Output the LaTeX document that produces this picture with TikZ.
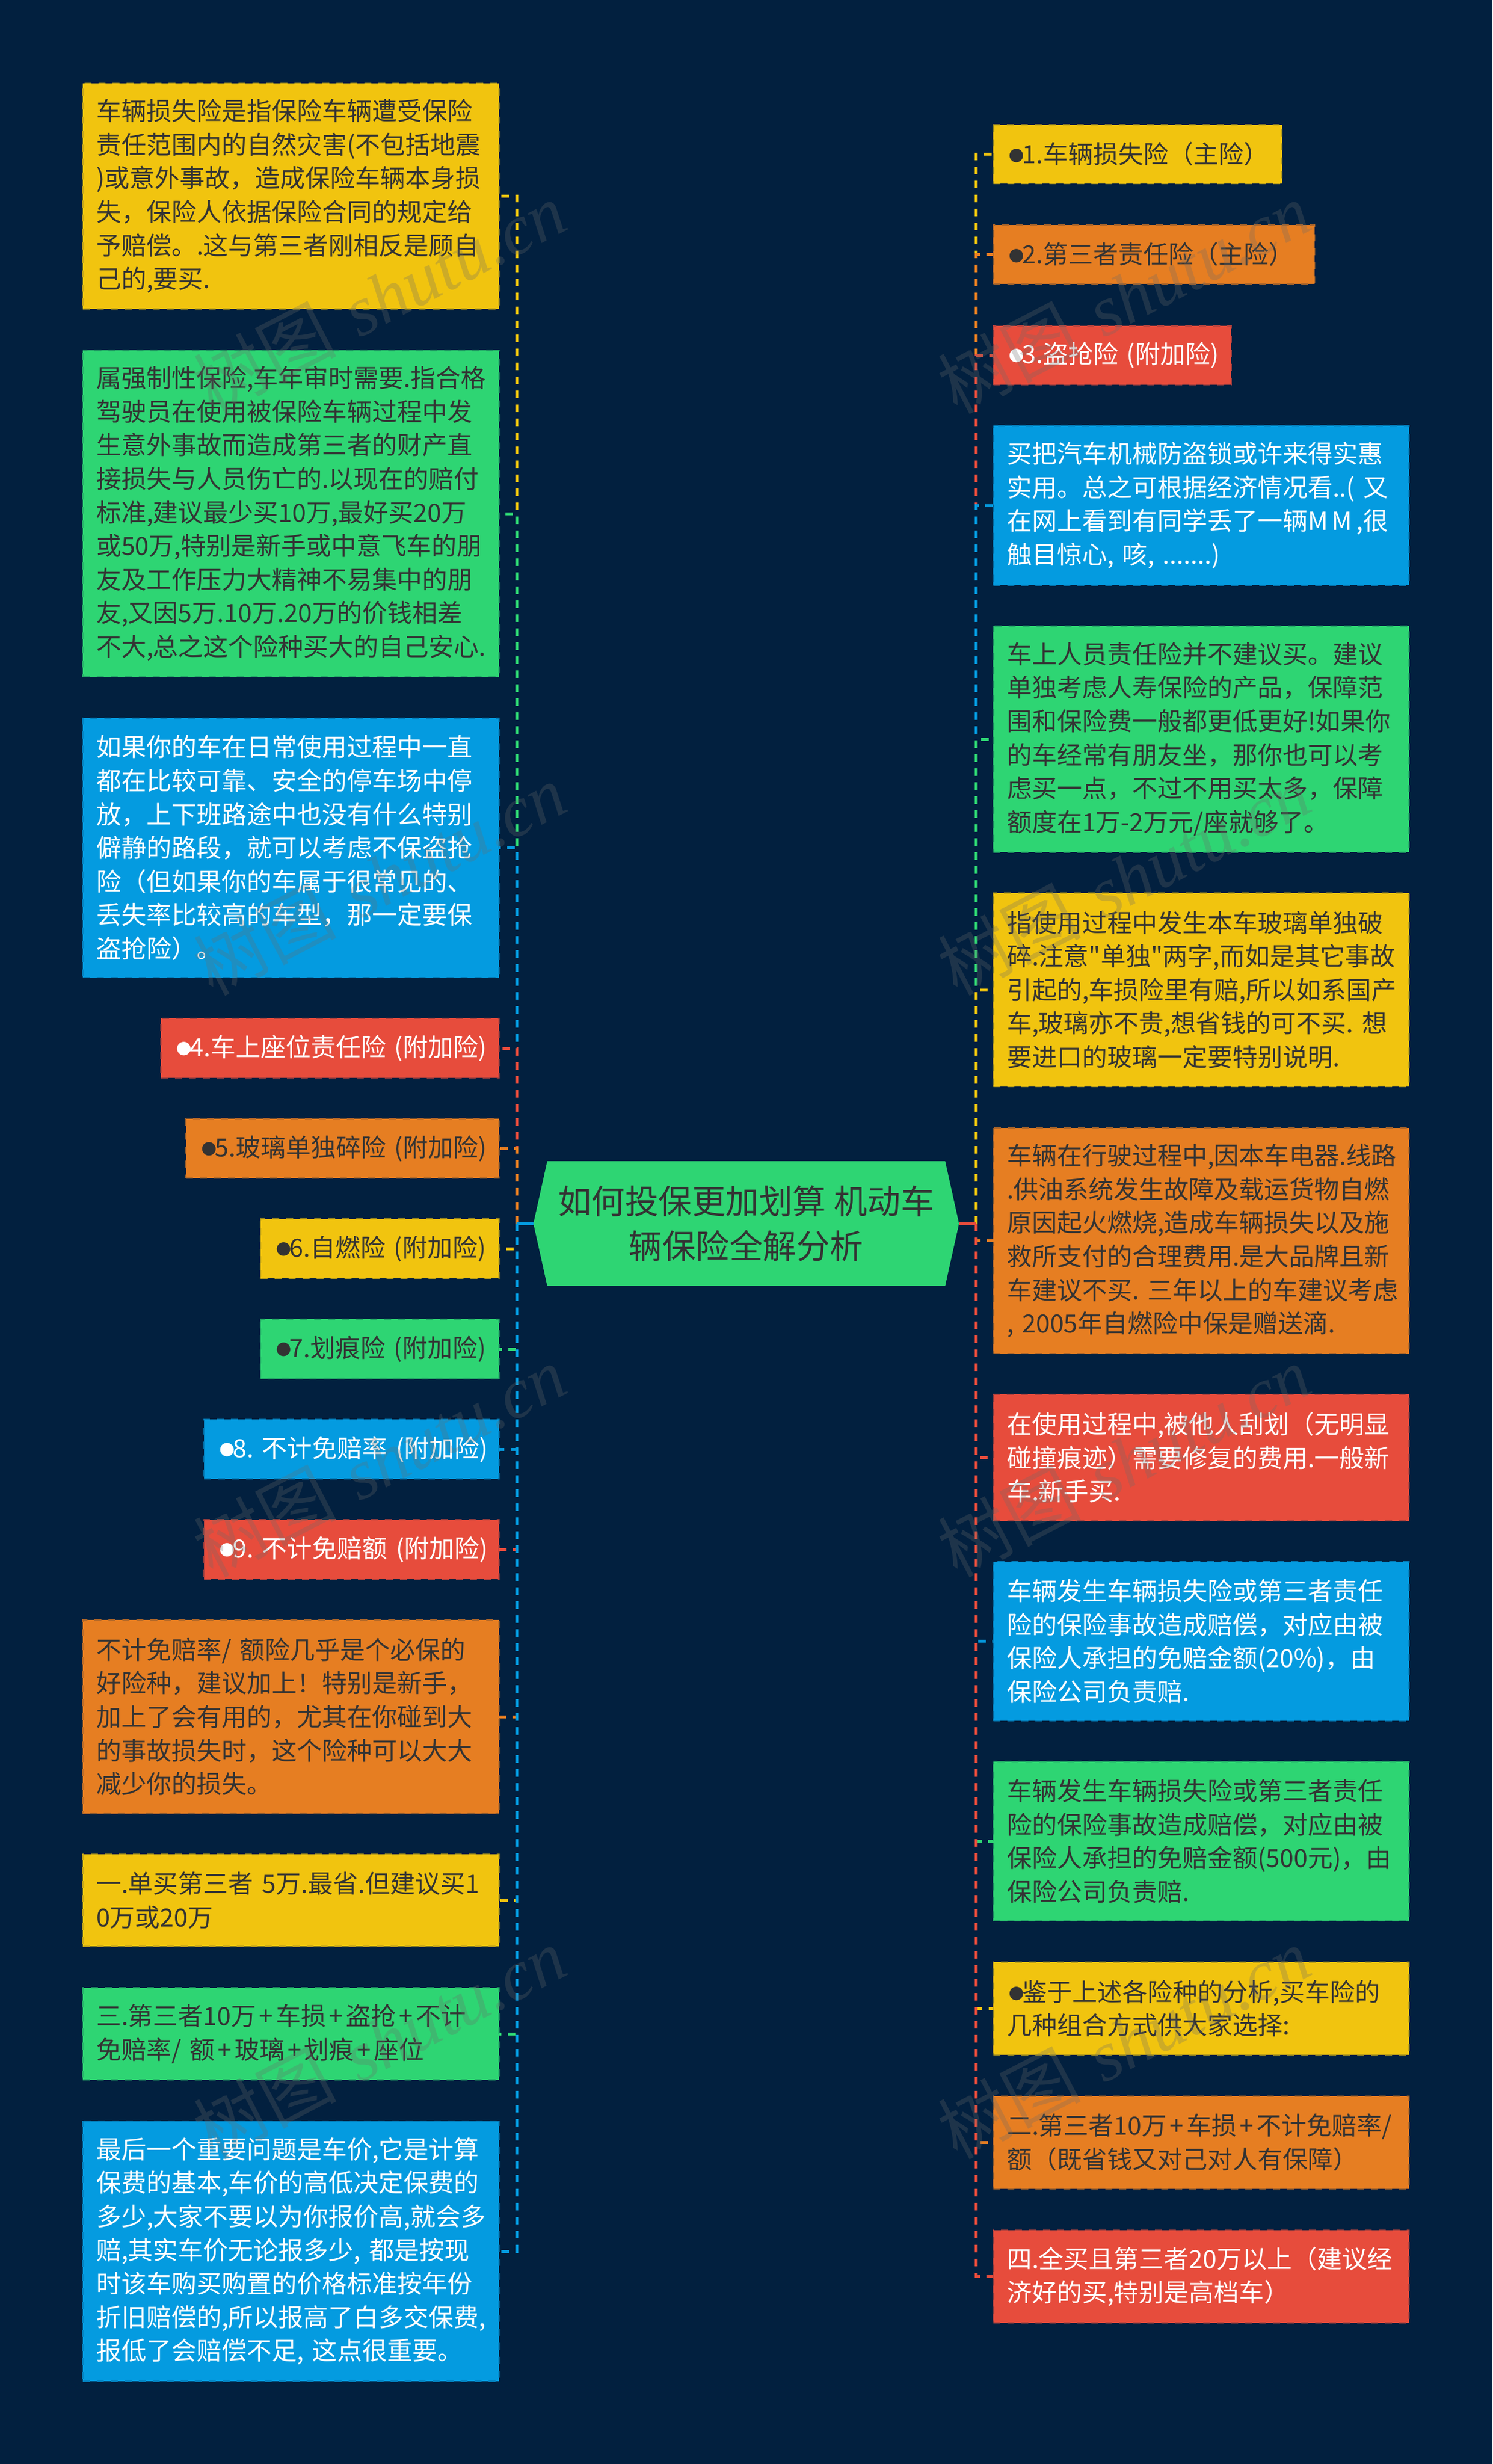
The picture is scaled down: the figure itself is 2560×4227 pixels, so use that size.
\documentclass[tikz,border=0pt]{standalone}
\usepackage{fontspec}
\usetikzlibrary{shapes.symbols}
\newfontfamily\cjkfont{Noto Sans CJK SC}
\newfontfamily\bulfont{Liberation Sans}
\newfontfamily\markfont{Liberation Serif}
\newcommand{\bul}{{\bulfont\fontsize{54}{57.6}\selectfont\raisebox{-2pt}{●}\kern-6pt}}
\newcommand{\plus}{\kern5pt+\kern5pt}
\definecolor{cnavy}{HTML}{02203F}
\definecolor{cyellow}{HTML}{F1C40F}
\definecolor{corange}{HTML}{E67E22}
\definecolor{cred}{HTML}{E74C3C}
\definecolor{cblue}{HTML}{049BE0}
\definecolor{cgreen}{HTML}{2ED573}
\definecolor{cdark}{HTML}{333333}
\definecolor{cmark}{gray}{0.42}
\tikzset{
	leaf/.style={rectangle, anchor=north west, align=left, inner xsep=23pt, inner ysep=0pt, outer sep=0pt, line width=2pt, dash pattern=on 12pt off 12pt, font=\cjkfont\fontsize{43}{57.6}\selectfont},
	yellowbox/.style={leaf, fill=cyellow, draw=cyellow!75!cnavy, text=cdark},
	orangebox/.style={leaf, fill=corange, draw=corange!75!cnavy, text=cdark},
	greenbox/.style={leaf, fill=cgreen, draw=cgreen!75!cnavy, text=cdark},
	redbox/.style={leaf, fill=cred, draw=cred!75!cnavy, text=white},
	bluebox/.style={leaf, fill=cblue, draw=cblue!75!cnavy, text=white},
	link/.style={line width=5pt, dash pattern=on 13pt off 11pt},
	stub/.style={line width=5pt},
	watermark/.style={rotate=27.5, text=cmark, opacity=0.27, font=\cjkfont\fontsize{122}{122}\selectfont}
}
\newcommand{\wmtext}{树图~\kern12pt{\markfont\itshape shutu.cn}}

\begin{document}
\begin{tikzpicture}[x=1pt,y=-1pt]
		%%%%% START %%%%%
		
		\useasboundingbox (0, 0) rectangle (2560, 4227);
		\fill[cnavy] (0, 0) rectangle (2560, 4227);
		
		\node[signal, signal to=west and east, signal pointer angle=155, fill=cgreen, text=cdark, minimum width=730pt, minimum height=214pt, inner sep=0pt, outer sep=0pt, align=center, font=\cjkfont\fontsize{57.5}{77}\selectfont] (root) at (1280, 2099) {如何投保更加划算~机动车\\辆保险全解分析};
		\coordinate (ltrunk) at (886, 2099);
		\coordinate (rtrunk) at (1674, 2099);
		
		%%%%% left side %%%%%
		\node[yellowbox, text width=668pt, minimum height=387pt] (l1) at (142, 143) {车辆损失险是指保险车辆遭受保险\\责任范围内的自然灾害(不包括地震\\)或意外事故，造成保险车辆本身损\\失，保险人依据保险合同的规定给\\予赔偿。.这与第三者刚相反是顾自\\己的,要买.};
		\node[greenbox, text width=668pt, minimum height=560pt] (l2) at (142, 601) {属强制性保险,车年审时需要.指合格\\驾驶员在使用被保险车辆过程中发\\生意外事故而造成第三者的财产直\\接损失与人员伤亡的.以现在的赔付\\标准,建议最少买10万,最好买20万\\或50万,特别是新手或中意飞车的朋\\友及工作压力大精神不易集中的朋\\友,又因5万.10万.20万的价钱相差\\不大,总之这个险种买大的自己安心.};
		\node[bluebox, text width=668pt, minimum height=445pt] (l3) at (142, 1232) {如果你的车在日常使用过程中一直\\都在比较可靠、安全的停车场中停\\放，上下班路途中也没有什么特别\\僻静的路段，就可以考虑不保盗抢\\险（但如果你的车属于很常见的、\\丢失率比较高的车型，那一定要保\\盗抢险）。};
		\node[redbox, text width=534pt, minimum height=102pt] (l4) at (276, 1747) {\bul 4.车上座位责任险~(附加险)};
		\node[orangebox, text width=491pt, minimum height=102pt] (l5) at (319, 1919) {\bul 5.玻璃单独碎险~(附加险)};
		\node[yellowbox, text width=363pt, minimum height=102pt] (l6) at (447, 2091) {\bul 6.自燃险~(附加险)};
		\node[greenbox, text width=363pt, minimum height=102pt] (l7) at (447, 2263) {\bul 7.划痕险~(附加险)};
		\node[bluebox, text width=460pt, minimum height=102pt] (l8) at (350, 2435) {\bul 8.~不计免赔率~(附加险)};
		\node[redbox, text width=460pt, minimum height=102pt] (l9) at (350, 2607) {\bul 9.~不计免赔额~(附加险)};
		\node[orangebox, text width=668pt, minimum height=332pt] (l10) at (142, 2779) {不计免赔率/~额险几乎是个必保的\\好险种，建议加上！特别是新手，\\加上了会有用的，尤其在你碰到大\\的事故损失时，这个险种可以大大\\减少你的损失。};
		\node[yellowbox, text width=668pt, minimum height=158pt] (l11) at (142, 3181) {一.单买第三者~5万.最省.但建议买1\\0万或20万};
		\node[greenbox, text width=668pt, minimum height=158pt] (l12) at (142, 3410) {三.第三者10万\plus 车损\plus 盗抢\plus 不计\\免赔率/~额\plus 玻璃\plus 划痕\plus 座位};
		\node[bluebox, text width=668pt, minimum height=446pt] (l13) at (142, 3639) {最后一个重要问题是车价,它是计算\\保费的基本,车价的高低决定保费的\\多少,大家不要以为你报价高,就会多\\赔,其实车价无论报多少,~都是按现\\时该车购买购置的价格标准按年份\\折旧赔偿的,所以报高了白多交保费,\\报低了会赔偿不足,~这点很重要。};
		
		\draw[link, cyellow] (ltrunk) |- (l1.east);
		\draw[link, cgreen] (ltrunk) |- (l2.east);
		\draw[link, cblue] (ltrunk) |- (l3.east);
		\draw[link, cred] (ltrunk) |- (l4.east);
		\draw[link, corange] (ltrunk) |- (l5.east);
		\draw[link, cyellow] (ltrunk) |- (l6.east);
		\draw[link, cgreen] (ltrunk) |- (l7.east);
		\draw[link, cblue] (ltrunk) |- (l8.east);
		\draw[link, cred] (ltrunk) |- (l9.east);
		\draw[link, corange] (ltrunk) |- (l10.east);
		\draw[link, cyellow] (ltrunk) |- (l11.east);
		\draw[link, cgreen] (ltrunk) |- (l12.east);
		\draw[link, cblue] (ltrunk) |- (l13.east);
		\draw[stub, cblue] (root.west) -- (ltrunk);
		
		%%%%% right side %%%%%
		\node[yellowbox, text width=449pt, minimum height=101pt] (r1) at (1704, 214) {\bul 1.车辆损失险（主险）};
		\node[orangebox, text width=505pt, minimum height=101pt] (r2) at (1704, 386) {\bul 2.第三者责任险（主险）};
		\node[redbox, text width=362pt, minimum height=101pt] (r3) at (1704, 559) {\bul 3.盗抢险~(附加险)};
		\node[bluebox, text width=667pt, minimum height=274pt] (r4) at (1704, 730) {买把汽车机械防盗锁或许来得实惠\\实用。总之可根据经济情况看..(~又\\在网上看到有同学丢了一辆M\kern7pt M\kern7pt,很\\触目惊心,~咳,~.......)};
		\node[greenbox, text width=667pt, minimum height=388pt] (r5) at (1704, 1074) {车上人员责任险并不建议买。建议\\单独考虑人寿保险的产品，保障范\\围和保险费一般都更低更好!如果你\\的车经常有朋友坐，那你也可以考\\虑买一点，不过不用买太多，保障\\额度在1万-2万元/座就够了。};
		\node[yellowbox, text width=667pt, minimum height=332pt] (r6) at (1704, 1532) {指使用过程中发生本车玻璃单独破\\碎.注意"单独"两字,而如是其它事故\\引起的,车损险里有赔,所以如系国产\\车,玻璃亦不贵,想省钱的可不买.~想\\要进口的玻璃一定要特别说明.};
		\node[orangebox, text width=667pt, minimum height=387pt] (r7) at (1704, 1935) {车辆在行驶过程中,因本车电器.线路\\.供油系统发生故障及载运货物自燃\\原因起火燃烧,造成车辆损失以及施\\救所支付的合理费用.是大品牌且新\\车建议不买.~三年以上的车建议考虑\\,~2005年自燃险中保是赠送滴.};
		\node[redbox, text width=667pt, minimum height=217pt] (r8) at (1704, 2392) {在使用过程中,被他人刮划（无明显\\碰撞痕迹）需要修复的费用.一般新\\车.新手买.};
		\node[bluebox, text width=667pt, minimum height=273pt] (r9) at (1704, 2679) {车辆发生车辆损失险或第三者责任\\险的保险事故造成赔偿，对应由被\\保险人承担的免赔金额(20\%)，由\\保险公司负责赔.};
		\node[greenbox, text width=667pt, minimum height=273pt] (r10) at (1704, 3022) {车辆发生车辆损失险或第三者责任\\险的保险事故造成赔偿，对应由被\\保险人承担的免赔金额(500元)，由\\保险公司负责赔.};
		\node[yellowbox, text width=667pt, minimum height=159pt] (r11) at (1704, 3366) {\bul 鉴于上述各险种的分析,买车险的\\几种组合方式供大家选择:};
		\node[orangebox, text width=667pt, minimum height=159pt] (r12) at (1704, 3596) {二.第三者10万\plus 车损\plus 不计免赔率/\\额（既省钱又对己对人有保障）};
		\node[redbox, text width=667pt, minimum height=159pt] (r13) at (1704, 3826) {四.全买且第三者20万以上（建议经\\济好的买,特别是高档车）};
		
		\draw[link, cyellow] (rtrunk) |- (r1.west);
		\draw[link, corange] (rtrunk) |- (r2.west);
		\draw[link, cred] (rtrunk) |- (r3.west);
		\draw[link, cblue] (rtrunk) |- (r4.west);
		\draw[link, cgreen] (rtrunk) |- (r5.west);
		\draw[link, cyellow] (rtrunk) |- (r6.west);
		\draw[link, corange] (rtrunk) |- (r7.west);
		\draw[link, cred] (rtrunk) |- (r8.west);
		\draw[link, cblue] (rtrunk) |- (r9.west);
		\draw[link, cgreen] (rtrunk) |- (r10.west);
		\draw[link, cyellow] (rtrunk) |- (r11.west);
		\draw[link, corange] (rtrunk) |- (r12.west);
		\draw[link, cred] (rtrunk) |- (r13.west);
		\draw[stub, cred] (root.east) -- (rtrunk);
		
		%%%%% watermark %%%%%
		\node[watermark] (wl1) at (651, 510) {\wmtext};
		\node[watermark] (wl2) at (651, 1508) {\wmtext};
		\node[watermark] (wl3) at (651, 2506) {\wmtext};
		\node[watermark] (wl4) at (651, 3504) {\wmtext};
		\node[watermark] (wr1) at (1928, 510) {\wmtext};
		\node[watermark] (wr2) at (1928, 1508) {\wmtext};
		\node[watermark] (wr3) at (1928, 2506) {\wmtext};
		\node[watermark] (wr4) at (1928, 3504) {\wmtext};
		
		%%%%% END %%%%%
	\end{tikzpicture}
\end{document}
